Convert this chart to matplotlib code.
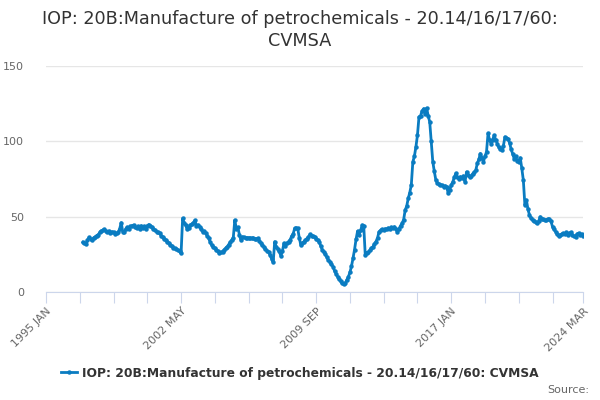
import numpy as np
import matplotlib
matplotlib.use("Agg")
from matplotlib import pyplot as plt

# monthly values, 1997 JAN .. 2024 MAR (x axis counts months from 1995 JAN)
start_year = 1997
values_by_year = {
    1997: [33.0, 32.5, 31.6, 34.5, 36.2, 35.0, 34.5, 36.0, 36.5, 37.5, 38.0, 39.5],
    1998: [40.6, 41.0, 41.5, 40.5, 39.5, 40.5, 39.0, 40.0, 39.5, 38.8, 38.9, 39.5],
    1999: [42.0, 46.0, 40.0, 39.5, 42.0, 43.0, 41.5, 43.5, 44.0, 44.4, 43.0, 42.2],
    2000: [43.5, 42.0, 44.0, 42.5, 43.5, 42.0, 44.0, 44.8, 44.0, 43.0, 42.0, 41.0],
    2001: [40.0, 39.5, 38.9, 37.5, 36.5, 35.5, 34.5, 33.5, 32.5, 31.2, 30.5, 29.5],
    2002: [29.0, 28.5, 27.8, 27.0, 25.6, 48.8, 46.0, 44.5, 41.5, 42.5, 44.5, 45.0],
    2003: [46.0, 47.5, 44.0, 44.5, 43.3, 42.0, 40.0, 40.5, 38.9, 37.5, 35.6, 33.0],
    2004: [31.0, 30.0, 29.0, 28.0, 27.0, 26.1, 26.5, 26.7, 28.0, 29.0, 30.0, 31.5],
    2005: [33.0, 34.5, 36.0, 47.7, 42.0, 43.0, 38.0, 34.5, 36.6, 36.2, 36.0, 36.0],
    2006: [36.0, 35.8, 35.7, 35.8, 35.5, 35.2, 35.6, 34.0, 32.4, 31.0, 30.0, 28.5],
    2007: [27.5, 26.7, 24.5, 22.0, 19.7, 33.4, 30.0, 28.5, 27.0, 23.9, 27.0, 32.3],
    2008: [30.5, 32.5, 33.5, 34.5, 37.0, 38.5, 42.2, 42.5, 42.2, 36.0, 31.2, 32.5],
    2009: [33.4, 34.5, 35.5, 36.5, 38.2, 37.5, 37.0, 36.8, 35.5, 34.5, 33.4, 30.5],
    2010: [28.0, 26.7, 25.0, 23.0, 21.2, 20.0, 18.5, 16.8, 14.0, 12.0, 10.1, 8.5],
    2011: [7.0, 5.7, 5.0, 6.0, 8.0, 10.1, 13.0, 17.0, 22.3, 28.0, 35.0, 40.4],
    2012: [38.0, 41.0, 44.4, 44.0, 24.5, 26.0, 26.5, 27.8, 29.0, 30.0, 32.0, 33.5],
    2013: [36.0, 40.0, 41.0, 41.5, 41.0, 42.0, 41.7, 42.5, 42.0, 43.0, 42.5, 43.3],
    2014: [42.0, 39.6, 42.0, 44.0, 45.5, 48.0, 54.3, 57.0, 62.1, 66.0, 71.0, 86.4],
    2015: [90.0, 96.3, 104.0, 116.2, 117.0, 120.0, 121.7, 118.0, 122.0, 117.0, 112.9, 100.0],
    2016: [86.4, 80.0, 74.2, 72.5, 71.5, 71.0, 71.0, 70.0, 70.5, 69.8, 65.8, 67.6],
    2017: [71.0, 73.0, 76.0, 78.7, 76.0, 75.3, 76.5, 75.5, 77.0, 73.1, 79.7, 77.5],
    2018: [76.4, 77.0, 78.5, 79.5, 80.8, 85.3, 88.0, 91.9, 89.0, 86.4, 90.0, 93.0],
    2019: [105.2, 101.0, 98.5, 101.0, 104.0, 101.0, 98.5, 96.0, 95.0, 94.1, 97.0, 102.9],
    2020: [102.0, 101.8, 99.0, 95.0, 91.9, 88.6, 90.0, 87.0, 86.4, 89.0, 82.0, 74.2],
    2021: [57.7, 61.0, 55.0, 51.0, 49.0, 47.7, 47.0, 46.5, 45.5, 47.0, 49.9, 48.5],
    2022: [48.2, 47.5, 48.0, 48.5, 48.2, 47.0, 43.3, 41.5, 40.0, 38.5, 37.1, 38.0],
    2023: [38.5, 39.0, 38.5, 39.5, 38.0, 39.0, 39.5, 38.0, 37.0, 36.6, 38.5, 39.0],
    2024: [38.0, 38.5, 37.1],
}
tick_labels = ["1995 JAN", "2002 MAY", "2009 SEP", "2017 JAN", "2024 MAR"]
label_months = [0, 88, 176, 264, 350]
title = "IOP: 20B:Manufacture of petrochemicals - 20.14/16/17/60:\nCVMSA"
series_name = "IOP: 20B:Manufacture of petrochemicals - 20.14/16/17/60: CVMSA"

values = np.concatenate([values_by_year[y] for y in sorted(values_by_year)])
months = (start_year - 1995) * 12 + np.arange(len(values))

line_c = "#0a7cc1"
axis_c = "#ccd6eb"
text_c = "#666666"

fig = plt.figure(figsize=(6, 4), dpi=100)
ax = fig.add_axes([0.0767, 0.27, 0.8953, 0.565])

ax.plot(months, values, c=line_c, lw=2, marker="o", ms=2.2, label=series_name)

ax.set_xlim(0, 350)
ax.set_ylim(0, 150)
ax.set_yticks([0, 50, 100, 150])
ax.yaxis.grid(True, color="#e6e6e6", lw=1)
ax.set_axisbelow(True)
ax.tick_params(axis="y", length=0, pad=16, labelsize=8, labelcolor=text_c)

minor = list(range(0, 331, 22)) + [350]
ax.set_xticks(minor)
ax.set_xticklabels([tick_labels[label_months.index(m)] if m in label_months else "" for m in minor])
ax.tick_params(axis="x", length=8, color=axis_c, labelsize=8, labelcolor=text_c, pad=2)
for lab in ax.get_xticklabels():
    lab.set_rotation(45)
    lab.set_ha("right")
    lab.set_rotation_mode("anchor")

for side in ["top", "right", "left"]:
    ax.spines[side].set_visible(False)
ax.spines["bottom"].set_color(axis_c)

fig.text(0.5, 0.975, title, ha="center", va="top", fontsize=12.7, color="#333333", linespacing=1.3)

leg = fig.legend(loc="center", bbox_to_anchor=(0.5, 0.067), frameon=False,
                 handlelength=1.3, handletextpad=0.4, prop={"size": 8.8, "weight": "bold"})
for t in leg.get_texts():
    t.set_color("#333333")

fig.text(0.982, 0.025, "Source:", ha="right", va="center", fontsize=8, color=text_c)

fig.savefig("out.png", dpi=100)
